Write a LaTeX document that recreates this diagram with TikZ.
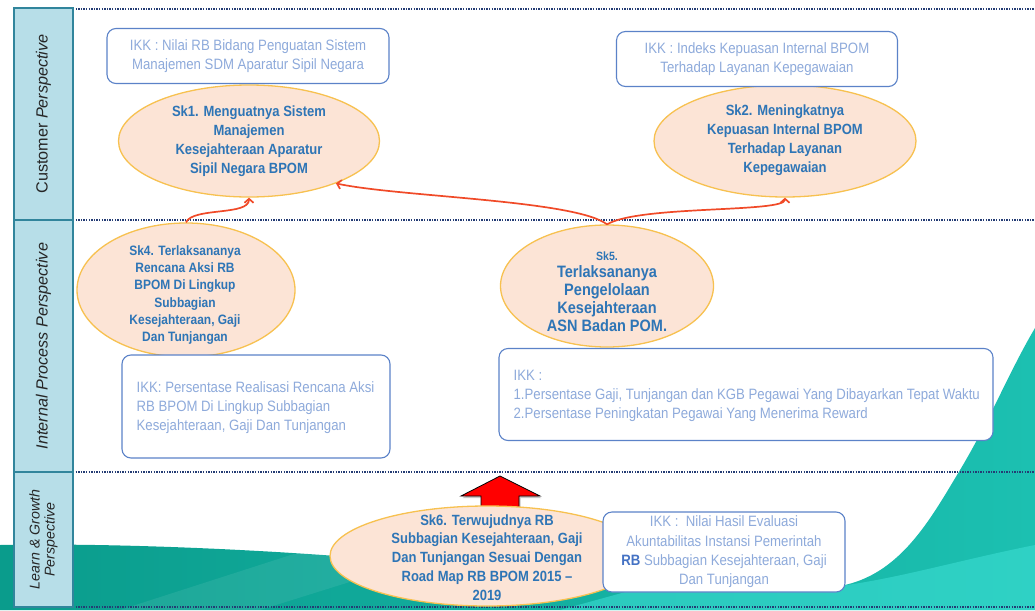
\documentclass[tikz,border=0pt]{standalone}
\usepackage{fontspec}
\setmainfont{Liberation Sans}
\newfontfamily\nf[FakeStretch=0.88]{Liberation Sans}
\usetikzlibrary{arrows.meta,shapes.geometric,shadows,calc}
\definecolor{barfill}{HTML}{B7DEE8}
\definecolor{barline}{HTML}{31859C}
\definecolor{dotc}{HTML}{243C74}
\definecolor{boxline}{HTML}{5B82C8}
\definecolor{ikktext}{HTML}{8EAADB}
\definecolor{rbblue}{HTML}{4472C4}
\definecolor{sktext}{HTML}{2E75B6}
\definecolor{skfill}{HTML}{FCE4D6}
\definecolor{skline}{HTML}{F7C150}
\definecolor{redarr}{HTML}{F04A28}
\definecolor{tealA}{HTML}{0A9C8C}
\definecolor{tealB}{HTML}{1CC0B1}
\definecolor{tealC}{HTML}{3FE0D6}
\tikzset{
  bar/.style={draw=barline, fill=barfill, line width=1.5pt, rotate=90, inner sep=0pt,
    font=\fontsize{16.2}{18}\selectfont, text=black!85},
  dotline/.style={draw=dotc, line width=1.8pt, dash pattern=on 1.3pt off 1.3pt},
  skell/.style={ellipse, draw=skline, fill=skfill, line width=1.3pt, inner sep=0pt},
  sktxt/.style={text=sktext, align=center, font=\nf\bfseries\fontsize{14.8}{19}\selectfont, inner sep=0pt},
  ikk/.style={rectangle, rounded corners=9pt, draw=boxline, fill=white, line width=1.1pt,
    text=ikktext, font=\nf\fontsize{15}{19}\selectfont, inner sep=0pt, align=center},
  ikktxt/.style={text=ikktext, font=\nf\fontsize{15}{19}\selectfont, inner sep=0pt, align=left, anchor=west},
  curv/.style={draw=redarr, line width=1.7pt, -{Straight Barb[length=4pt,width=9pt]}},
}
\begin{document}
\begin{tikzpicture}[x=1pt,y=-1pt]
\useasboundingbox (0,0) rectangle (1035,610);
% teal background
\shade[left color=tealA, right color=tealB]
  (0,545) .. controls (150,542) and (400,555) .. (560,580) -- (840,586)
  .. controls (900,575) and (930,520) .. (960,470)
  .. controls (990,420) and (1010,370) .. (1035,328) -- (1035,610) -- (0,610) -- cycle;
\fill[tealC, opacity=0.55] (560,610) -- (640,588) -- (840,586) .. controls (900,578) and (960,560) .. (1035,545) -- (1035,610) -- cycle;
\fill[white, opacity=0.08] (120,610) -- (300,552) -- (420,560) -- (260,610) -- cycle;
% dotted separators
\draw[dotline] (73,9) -- (1035,9);
\draw[dotline] (73,220) -- (1035,220);
\draw[dotline] (73,472) -- (1035,472);
\draw[dotline] (73,607) -- (1035,607);
% left perspective bar
\node[bar, minimum width=212, minimum height=59] (pc) at (43.5,114) {Customer \textit{Perspective}};
\node[bar, minimum width=252, minimum height=59] (pi) at (43.5,346) {\textit{Internal Process Perspective}};
\node[bar, minimum width=135, minimum height=59, align=center, font=\fontsize{14.2}{15}\selectfont] (pl) at (43.5,539.5) {\textit{Learn \& Growth}\\\textit{Perspective}};
% red block arrow
\filldraw[fill=red, draw=black, line width=0.8pt, drop shadow={shadow xshift=1.5pt, shadow yshift=-2pt, opacity=0.45}]
  (500,476) -- (540,496) -- (519,496) -- (519,518) -- (481,518) -- (481,496) -- (461,496) -- cycle;
% ellipses
\node[skell, minimum width=261, minimum height=112] (sk1) at (249,141) {};
\node[sktxt] (sk1t) at (249,141) {Sk1. Menguatnya Sistem\\Manajemen\\Kesejahteraan Aparatur\\Sipil Negara BPOM};
\node[skell, minimum width=262, minimum height=112] (sk2) at (785,141) {};
\node[sktxt] (sk2t) at (785,140.5) {Sk2. Meningkatnya\\Kepuasan Internal BPOM\\Terhadap Layanan\\Kepegawaian};
\node[skell, minimum width=218, minimum height=134] (sk4) at (186,290) {};
\node[sktxt, font=\nf\bfseries\fontsize{13.6}{17.2}\selectfont] (sk4t) at (185,295) {Sk4. Terlaksananya\\Rencana Aksi RB\\BPOM Di Lingkup\\Subbagian\\Kesejahteraan, Gaji\\Dan Tunjangan};
\node[skell, minimum width=213, minimum height=122] (sk5) at (607,286) {};
\node[sktxt, font=\nf\bfseries\fontsize{16.5}{18}\selectfont] (sk5t) at (607,292) {{\fontsize{12}{13}\selectfont Sk5.}\\[-1pt]Terlaksananya\\Pengelolaan\\Kesejahteraan\\ASN Badan POM.};
\node[skell, minimum width=314, minimum height=100] (sk6) at (487,556) {};
\node[sktxt, font=\nf\bfseries\fontsize{14.8}{18.8}\selectfont] (sk6t) at (487,557.5) {Sk6. Terwujudnya RB\\Subbagian Kesejahteraan, Gaji\\Dan Tunjangan Sesuai Dengan\\Road Map RB BPOM 2015 –\\2019};
% IKK boxes
\node[ikk, minimum width=282, minimum height=55] (ikk1) at (248,56) {IKK : Nilai RB Bidang Penguatan Sistem\\Manajemen SDM Aparatur Sipil Negara};
\node[ikk, minimum width=281, minimum height=55] (ikk2) at (757,59) {IKK : Indeks Kepuasan Internal BPOM\\Terhadap Layanan Kepegawaian};
\node[ikk, minimum width=268, minimum height=103] (ikk3) at (256,406.5) {};
\node[ikktxt] (ikk3t) at ($(ikk3.west)+(15,1)$) {IKK: Persentase Realisasi Rencana Aksi\\RB BPOM Di Lingkup Subbagian\\Kesejahteraan, Gaji Dan Tunjangan};
\node[ikk, minimum width=494, minimum height=92] (ikk4) at (746,394.5) {};
\node[ikktxt] (ikk4t) at ($(ikk4.west)+(15,1)$) {IKK :\\1.Persentase Gaji, Tunjangan dan KGB Pegawai Yang Dibayarkan Tepat Waktu\\2.Persentase Peningkatan Pegawai Yang Menerima Reward};
\node[ikk, minimum width=242, minimum height=80, font=\nf\fontsize{15}{19.3}\selectfont] (ikk5) at (724,552) {IKK :~ Nilai Hasil Evaluasi\\Akuntabilitas Instansi Pemerintah\\{\bfseries\color{rbblue}RB} Subbagian Kesejahteraan, Gaji\\Dan Tunjangan};
% red connectors
\draw[curv] (sk4.north) .. controls (193,207) and (249,216) .. (sk1.south);
\draw[curv] (sk5.north) .. controls (575,200) and (400,197) .. (sk1.-26);
\draw[curv] (sk5.north) .. controls (640,205) and (785,213) .. (sk2.south);
\end{tikzpicture}
\end{document}
